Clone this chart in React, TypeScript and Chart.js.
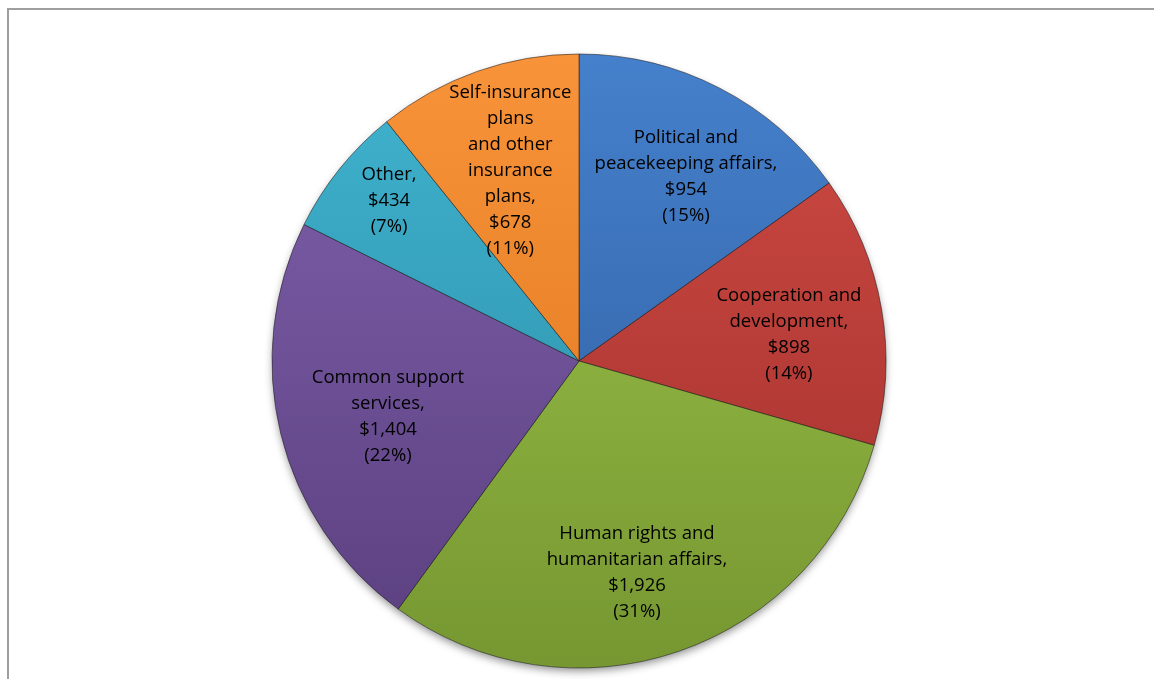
import React, { useEffect, useRef } from "react";
import { Chart, registerables } from "chart.js";

Chart.register(...registerables);

// ---- data ----
const categories: string[][] = [
  ["Political and", "peacekeeping affairs,"],
  ["Cooperation and", "development,"],
  ["Human rights and", "humanitarian affairs,"],
  ["Common support", "services,"],
  ["Other,"],
  ["Self-insurance", "plans", "and other", "insurance", "plans,"],
];
const values: number[] = [954, 898, 1926, 1404, 434, 678];

// ---- styles ----
const topColors = ["#4580cc", "#cf4a44", "#9fc64c", "#8061ad", "#40b3cf", "#f8933a"];
const bottomColors = ["#2d5b9b", "#a02f2b", "#769731", "#5a3f7e", "#2a8aa3", "#dc7419"];
const labelRadiusFraction = [0.693, 0.689, 0.716, 0.648, 0.809, 0.658];
const labelAngleOffsetDeg = [2.9, 2.65, 3.7, -2.5, 1.3, -0.5];

const SIZE = 640;
const RADIUS = 307;

const fmtMoney = (v: number) => "$" + v.toLocaleString("en-US");

export default function App() {
  const ref = useRef<HTMLCanvasElement | null>(null);

  useEffect(() => {
    if (!ref.current) return;
    const total = values.reduce((a, b) => a + b, 0);

    const shadowPlugin = {
      id: "pieShadow",
      beforeDatasetsDraw(chart: any) {
        const arc = chart.getDatasetMeta(0).data[0];
        if (!arc) return;
        const { x, y, outerRadius } = arc.getProps(["x", "y", "outerRadius"], true);
        const c = chart.ctx;
        c.save();
        c.beginPath();
        c.arc(x, y, outerRadius - 1, 0, Math.PI * 2);
        c.shadowColor = "rgba(0,0,0,0.45)";
        c.shadowBlur = 9;
        c.shadowOffsetY = 4;
        c.fillStyle = "#666";
        c.fill();
        c.restore();
      },
    };

    const labelPlugin = {
      id: "sliceLabels",
      afterDatasetsDraw(chart: any) {
        const c = chart.ctx;
        const meta = chart.getDatasetMeta(0);
        c.save();
        c.font = '18.5px "Open Sans", "Noto Sans", sans-serif';
        c.fillStyle = "#000";
        c.textAlign = "center";
        c.textBaseline = "middle";
        const lh = 26;
        meta.data.forEach((el: any, i: number) => {
          const { x, y, startAngle, endAngle, outerRadius } = el.getProps(
            ["x", "y", "startAngle", "endAngle", "outerRadius"],
            true
          );
          const mid = (startAngle + endAngle) / 2 + (labelAngleOffsetDeg[i] * Math.PI) / 180;
          const r = outerRadius * labelRadiusFraction[i];
          const cx = x + Math.cos(mid) * r;
          const cy = y + Math.sin(mid) * r;
          const pct = "(" + Math.round((values[i] / total) * 100) + "%)";
          const lines = [...categories[i], fmtMoney(values[i]), pct];
          const start = cy - ((lines.length - 1) * lh) / 2;
          lines.forEach((t, k) => c.fillText(t, cx, start + k * lh));
        });
        c.restore();
      },
    };

    const chart = new Chart(ref.current, {
      type: "pie",
      data: {
        labels: categories.map((l) => l.join(" ")),
        datasets: [
          {
            data: values,
            backgroundColor: (ctx: any) => {
              const i = ctx.dataIndex;
              const chartCtx = ctx.chart.ctx;
              const cy = SIZE / 2;
              const g = chartCtx.createLinearGradient(0, cy - RADIUS, 0, cy + RADIUS);
              g.addColorStop(0, topColors[i]);
              g.addColorStop(1, bottomColors[i]);
              return g;
            },
            borderColor: "rgba(30,30,30,0.55)",
            borderWidth: 1,
          },
        ],
      },
      options: {
        responsive: false,
        animation: false,
        radius: RADIUS,
        layout: { padding: 0 },
        plugins: {
          legend: { display: false },
          tooltip: { enabled: false },
          title: { display: false },
        },
      } as any,
      plugins: [shadowPlugin, labelPlugin],
    });
    return () => chart.destroy();
  }, []);

  return (
    <div
      style={{
        position: "fixed",
        left: 0,
        top: 0,
        width: 1154,
        height: 679,
        overflow: "hidden",
        background: "#fff",
      }}
    >
      <div
        style={{
          position: "absolute",
          left: 7,
          top: 8,
          width: 1170,
          height: 720,
          border: "2px solid #9e9e9e",
          boxSizing: "border-box",
        }}
      />
      <canvas
        ref={ref}
        width={SIZE}
        height={SIZE}
        style={{ position: "absolute", left: 579 - SIZE / 2, top: 361 - SIZE / 2, width: SIZE, height: SIZE }}
      />
    </div>
  );
}
